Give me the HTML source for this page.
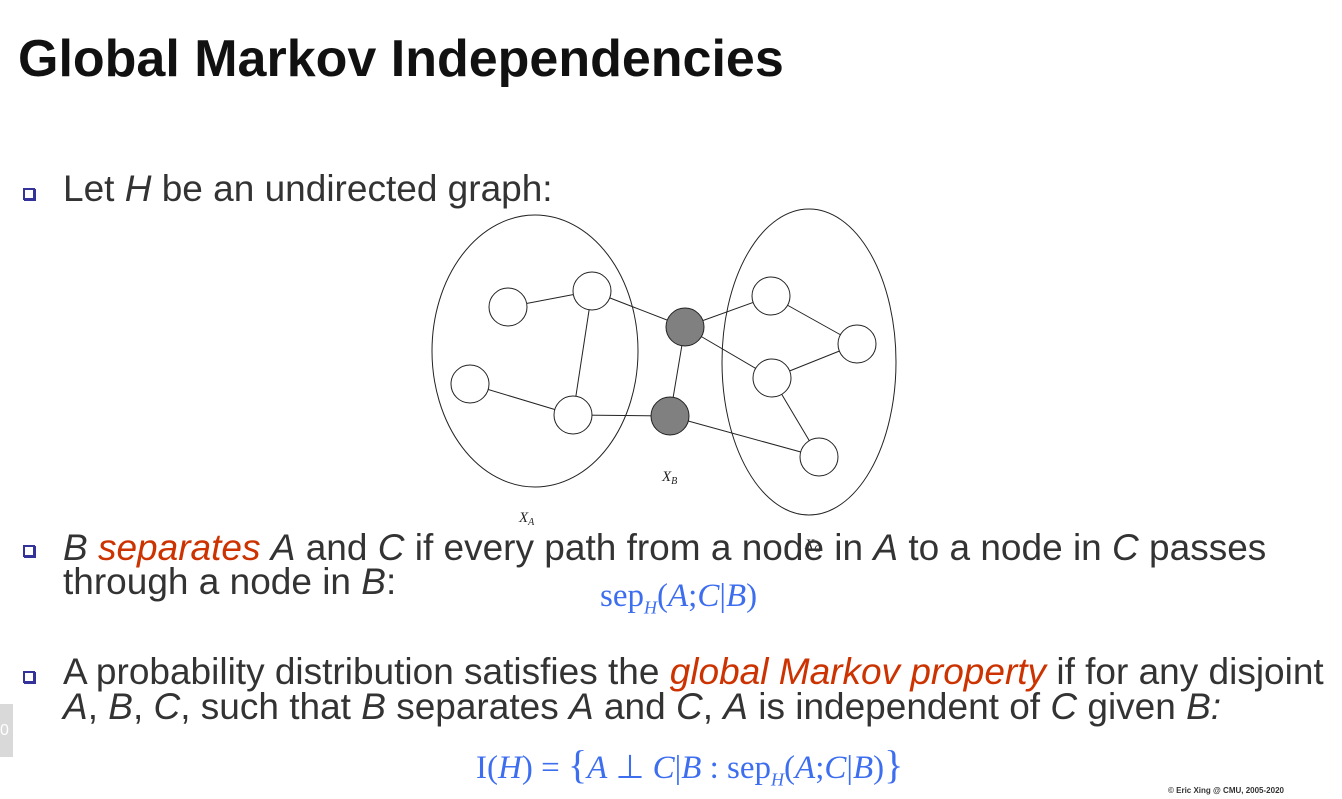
<!DOCTYPE html>
<html><head><style>
body{margin:0;width:1342px;height:799px;background:#fff;position:relative;overflow:hidden;font-family:"Liberation Sans",sans-serif;}
.t{position:absolute;white-space:nowrap;color:#333;font-size:37px;line-height:1;letter-spacing:0;}
.b{position:absolute;width:8px;height:8px;border:2px solid #33339a;background:#fff;box-shadow:1px 1px 0 #33339a;}
i{font-style:italic}
.r{color:#cc3300;font-style:italic}
.m{position:absolute;white-space:nowrap;font-family:"Liberation Serif",serif;color:#3d6ef0;font-size:33px;line-height:1;}
</style></head><body>
<div class="t" style="left:18px;top:33px;font-size:52px;font-weight:bold;color:#111;">Global Markov Independencies</div>
<div class="b" style="left:23px;top:188px"></div>
<div class="t" style="left:63px;top:170px">Let <i>H</i> be an undirected graph:</div>
<svg style="position:absolute;left:0;top:0" width="1342" height="799">
<g fill="none" stroke="#222" stroke-width="1">
<ellipse cx="535" cy="351" rx="103" ry="136"/>
<ellipse cx="809" cy="362" rx="87" ry="153"/>
<line x1="508" y1="307" x2="592" y2="291"/>
<line x1="592" y1="291" x2="573" y2="415"/>
<line x1="470" y1="384" x2="573" y2="415"/>
<line x1="573" y1="415" x2="670" y2="416"/>
<line x1="592" y1="291" x2="685" y2="327"/>
<line x1="685" y1="327" x2="670" y2="416"/>
<line x1="685" y1="327" x2="771" y2="296"/>
<line x1="685" y1="327" x2="772" y2="378"/>
<line x1="771" y1="296" x2="857" y2="344"/>
<line x1="857" y1="344" x2="772" y2="378"/>
<line x1="772" y1="378" x2="819" y2="457"/>
<line x1="670" y1="416" x2="819" y2="457"/>
</g>
<g fill="#fff" stroke="#222" stroke-width="1">
<circle cx="508" cy="307" r="19"/><circle cx="592" cy="291" r="19"/>
<circle cx="470" cy="384" r="19"/><circle cx="573" cy="415" r="19"/>
<circle cx="771" cy="296" r="19"/><circle cx="857" cy="344" r="19"/>
<circle cx="772" cy="378" r="19"/><circle cx="819" cy="457" r="19"/>
<circle cx="685" cy="327" r="19" fill="#808080"/><circle cx="670" cy="416" r="19" fill="#808080"/>
</g>
<g font-family="Liberation Serif,serif" font-style="italic" font-size="15" fill="#222">
<text x="662" y="481">X<tspan font-size="10" dy="3">B</tspan></text>
<text x="519" y="522">X<tspan font-size="10" dy="3">A</tspan></text>
<text x="805" y="549">X<tspan font-size="10" dy="3">C</tspan></text>
</g>
</svg>
<div class="b" style="left:23px;top:545px"></div>
<div class="t" style="left:63px;top:529px"><i>B</i> <span class="r">separates</span> <i>A</i> and <i>C</i> if every path from a node in <i>A</i> to a node in <i>C</i> passes</div>
<div class="t" style="left:63px;top:563px">through a node in <i>B</i>:</div>
<div class="m" style="left:600px;top:580px">sep<sub style="font-size:18px;font-style:italic">H</sub>(<i>A</i>;<i>C</i>|<i>B</i>)</div>
<div class="b" style="left:23px;top:671px"></div>
<div class="t" style="left:63px;top:653px">A probability distribution satisfies the <span class="r">global Markov property</span> if for any disjoint</div>
<div class="t" style="left:63px;top:688px"><i>A</i>, <i>B</i>, <i>C</i>, such that <i>B</i> separates <i>A</i> and <i>C</i>, <i>A</i> is independent of <i>C</i> given <i>B:</i></div>
<div style="position:absolute;left:0;top:704px;width:13px;height:53px;background:#d9d9d9;color:#fff;font-size:16px;line-height:53px">0</div>
<div class="m" style="left:476px;top:745px">I(<i>H</i>) = <span style="font-size:40px">{</span><i>A</i> ⊥ <i>C</i>|<i>B</i> : sep<sub style="font-size:18px;font-style:italic">H</sub>(<i>A</i>;<i>C</i>|<i>B</i>)<span style="font-size:40px">}</span></div>
<div class="t" style="left:1168px;top:787px;font-size:8px;font-weight:bold;">© Eric Xing @ CMU, 2005-2020</div>
</body></html>
